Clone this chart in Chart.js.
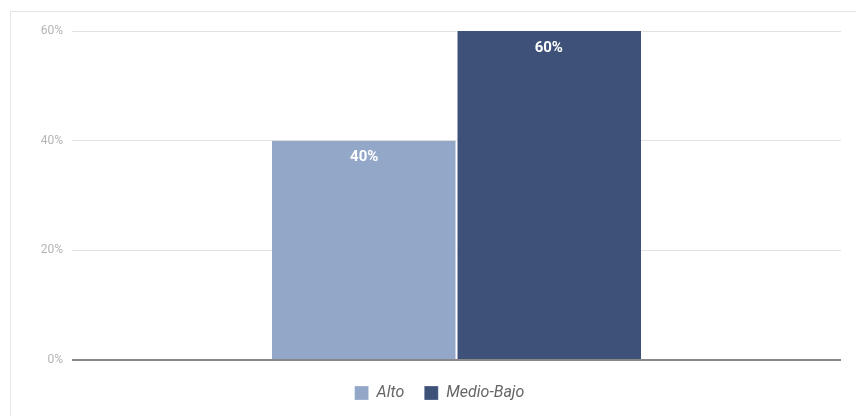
<!DOCTYPE html>
<html>
<head>
<meta charset="utf-8">
<script src="https://cdn.jsdelivr.net/npm/chart.js@4"></script>
<style>
  body { margin: 0; background: #fff; }
  #frame { position: absolute; left: 10px; top: 11px; width: 900px; height: 500px; border: 1px solid #e6e6e6; }
  #wrap { position: absolute; left: 0; top: 0; width: 856px; height: 416px; }
</style>
</head>
<body>
<div id="frame"></div>
<div id="wrap"><canvas id="chart"></canvas></div>
<script>
const categories = [""];
const seriesNames = ["Alto", "Medio-Bajo"];
const altoValues = [40];
const medioBajoValues = [60];
const yTicks = [0, 20, 40, 60];

// draws the white % labels near the top of each bar
const barLabels = {
    id: "barLabels",
    afterDatasetsDraw(chart) {
        const ctx = chart.ctx;
        ctx.save();
        ctx.font = "bold 15px Roboto";
        ctx.fillStyle = "#ffffff";
        ctx.textAlign = "center";
        ctx.textBaseline = "middle";
        chart.data.datasets.forEach((ds, i) => {
            chart.getDatasetMeta(i).data.forEach((bar, j) => {
                ctx.fillText(ds.data[j] + "%", bar.x, bar.y + 17);
            });
        });
        ctx.restore();
    }
};

new Chart(document.getElementById("chart"), {
    type: "bar",
    data: {
        labels: categories,
        datasets: [
            { label: seriesNames[0], data: altoValues, backgroundColor: "#93a8c8", borderColor: "#ffffff", borderWidth: { right: 1 }, borderSkipped: false },
            { label: seriesNames[1], data: medioBajoValues, backgroundColor: "#3e5178", borderColor: "#ffffff", borderWidth: { left: 1 }, borderSkipped: false }
        ]
    },
    options: {
        responsive: true,
        maintainAspectRatio: false,
        animation: false,
        categoryPercentage: 0.48,
        barPercentage: 1,
        layout: { padding: { top: 31, right: 0, left: 23, bottom: 5 } },
        scales: {
            x: {
                ticks: { display: false },
                grid: { display: false },
                border: { display: false },
                afterFit: s => { s.height = 5; }
            },
            y: {
                min: 0,
                max: 60,
                afterFit: s => { s.width = 49; },
                afterBuildTicks: s => { s.ticks = yTicks.map(v => ({ value: v })); },
                ticks: {
                    padding: 9,
                    color: "#b4b4b4",
                    font: { family: "Roboto", size: 12 },
                    callback: v => v + "%"
                },
                grid: {
                    drawTicks: false,
                    color: c => c.tick && c.tick.value === 0 ? "#888888" : "#e2e2e2",
                    lineWidth: c => c.tick && c.tick.value === 0 ? 2 : 1
                },
                border: { display: false }
            },
            // empty right-side axis, just keeps the plot off the right edge
            yRight: {
                position: "right",
                min: 0,
                max: 60,
                ticks: { display: false },
                grid: { display: false },
                border: { display: false },
                afterFit: s => { s.width = 15; }
            }
        },
        plugins: {
            legend: {
                position: "bottom",
                labels: {
                    boxWidth: 14,
                    boxHeight: 14,
                    padding: 20,
                    color: "#666666",
                    font: { family: "Roboto", size: 16, style: "italic" }
                }
            },
            tooltip: { enabled: false }
        }
    },
    plugins: [barLabels]
});
</script>
</body>
</html>
